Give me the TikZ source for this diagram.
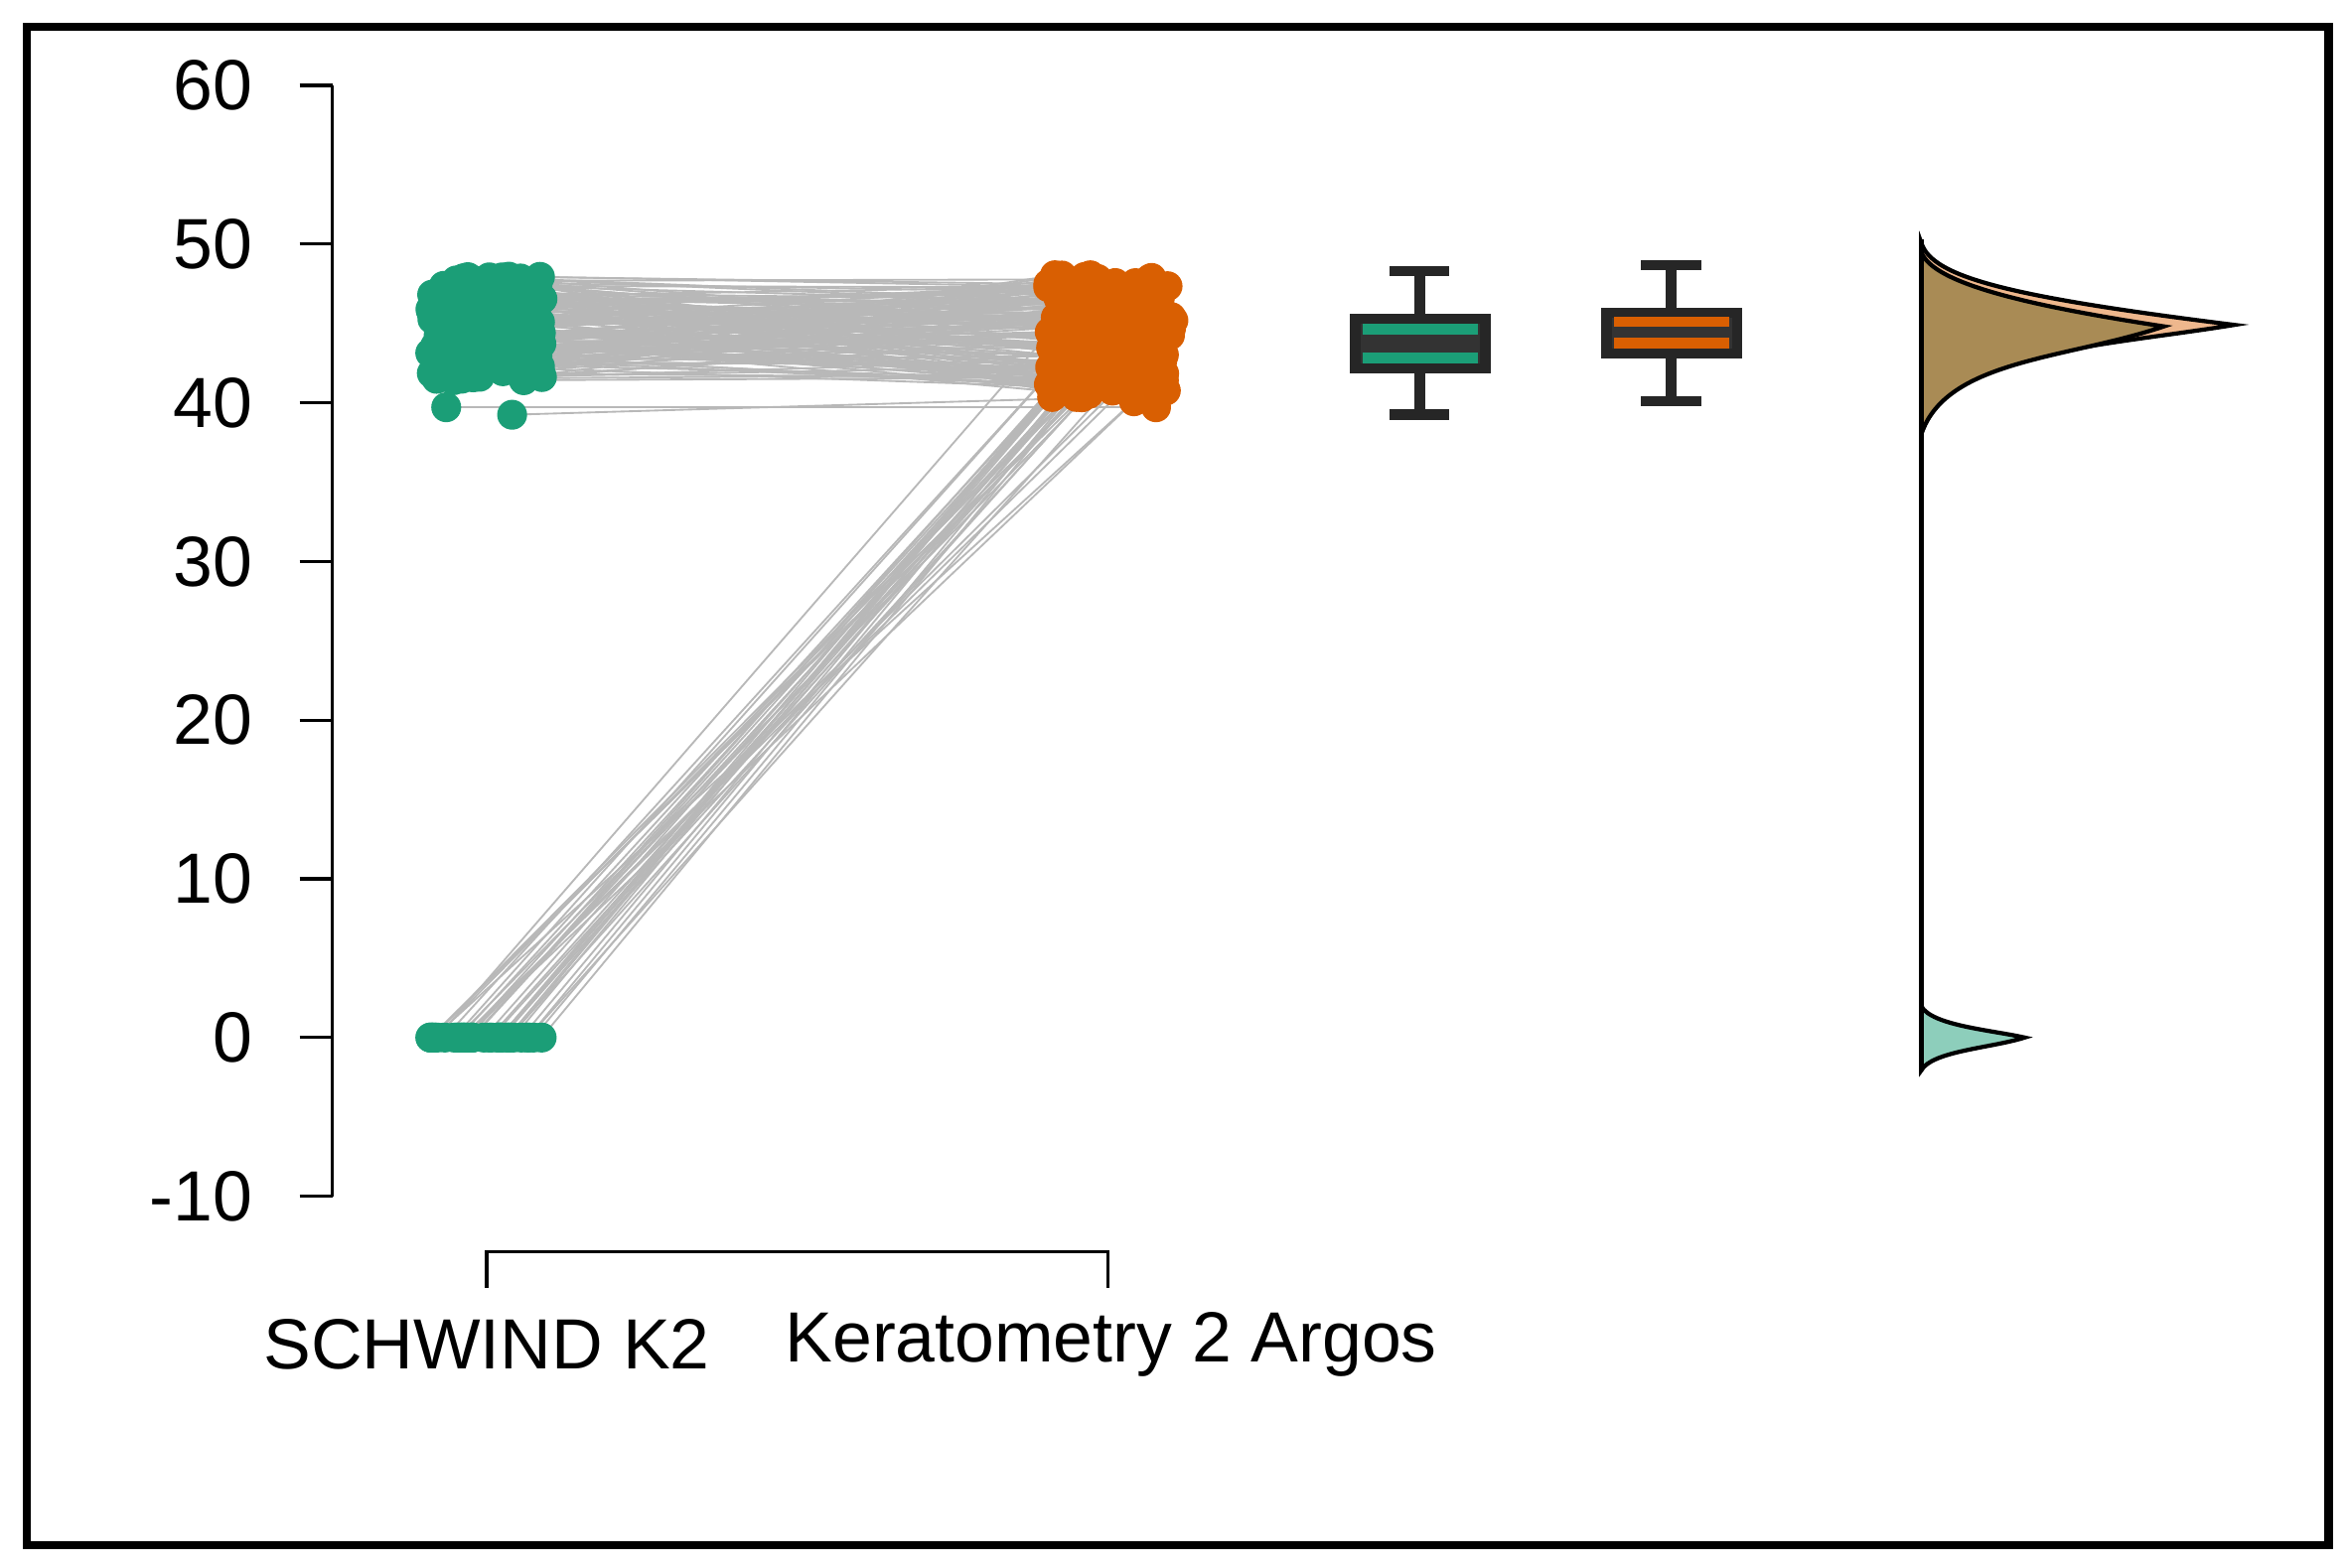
\documentclass[tikz,border=0pt]{standalone}
\usepackage{fontspec}
\setmainfont{Liberation Sans}
\begin{document}
\begin{tikzpicture}[x=0.01cm,y=-0.01cm,
  ax/.style={line width=0.6pt,black},
  lab/.style={font=\fontsize{13.5}{15}\selectfont},
  link/.style={draw=black!28,line width=0.35pt}]
\definecolor{gcol}{HTML}{1B9E77}
\definecolor{ocol}{HTML}{D95F02}
\definecolor{tan}{HTML}{A98B55}
\useasboundingbox (0,0) rectangle (1568,1047);
\draw[line width=1.6pt] (18,18) rectangle (1555,1032);
% y axis
\draw[ax] (222,57) -- (222,799);
\foreach \v in {-10,0,...,60}{
  \pgfmathsetmacro\yy{693-10.6*\v}
  \draw[ax] (200,\yy) -- (222,\yy);
  \node[lab,anchor=east] (t\v) at (181,\yy) {\v};
}
% x bracket
\draw[ax] (325,860) -- (325,836) -- (740,836) -- (740,860);
\node[lab] (l1) at (325,898) {SCHWIND K2};
\node[lab] (l2) at (742,898) {Keratometry 2 Argos};
% lines
\pgfmathsetseed{11}
\foreach \i in {1,...,170}{
  \pgfmathsetmacro\g{44.7+3.3*rand}
  \pgfmathsetmacro\o{44.3+3.8*rand}
  \pgfmathsetmacro\gx{325+38*rand}
  \pgfmathsetmacro\ox{742+42*rand}
  \draw[link] (\gx,693-10.6*\g) -- (\ox,693-10.6*\o);
}
\foreach \i in {1,...,35}{
  \pgfmathsetmacro\o{42.5+2.5*rand}
  \pgfmathsetmacro\gx{325+38*rand}
  \pgfmathsetmacro\ox{742+42*rand}
  \draw[link] (\gx,693) -- (\ox,693-10.6*\o);
}
\draw[link] (298,272) -- (770,272);
\draw[link] (342,277) -- (750,265);
% dots
\pgfmathsetseed{11}
\foreach \i in {1,...,170}{
  \pgfmathsetmacro\g{44.7+3.3*rand}
  \pgfmathsetmacro\o{44.3+3.8*rand}
  \pgfmathsetmacro\gx{325+38*rand}
  \pgfmathsetmacro\ox{742+42*rand}
  \fill[gcol] (\gx,693-10.6*\g) circle (10);
  \fill[ocol] (\ox,693-10.6*\o) circle (10);
}
\foreach \i in {1,...,35}{
  \pgfmathsetmacro\o{42.5+2.5*rand}
  \pgfmathsetmacro\gx{325+38*rand}
  \pgfmathsetmacro\ox{742+42*rand}
  \fill[gcol] (\gx,693) circle (10);
  \fill[ocol] (\ox,693-10.6*\o) circle (10);
}
\fill[gcol] (298,272) circle (10) (342,277) circle (10);
\fill[ocol] (772,272) circle (10);
% boxplots
\draw[line width=2pt,black!85] (948,181) -- (948,213) (948,246) -- (948,277)
  (928,181) -- (968,181) (928,277) -- (968,277);
\draw[line width=2pt,black!85,fill=black!80] (905,213) rectangle (992,246);
\draw[line width=2pt,gcol] (910,220) -- (987,220) (910,239) -- (987,239);
\draw[line width=2pt,black!85] (1116,177) -- (1116,209) (1116,236) -- (1116,268)
  (1096,177) -- (1136,177) (1096,268) -- (1136,268);
\draw[line width=2pt,black!85,fill=black!80] (1073,209) rectangle (1160,236);
\draw[line width=2pt,ocol] (1078,215) -- (1155,215) (1078,229) -- (1155,229);
% densities
\filldraw[fill=ocol!45!white,draw=black,line width=0.8pt] (1283,162) .. controls (1290,185) and (1340,198) .. (1492,217)
  .. controls (1400,232) and (1300,235) .. (1283,290) -- cycle;
\filldraw[fill=tan,draw=black,line width=0.8pt] (1283,168) .. controls (1290,190) and (1360,205) .. (1445,218)
  .. controls (1380,240) and (1300,240) .. (1283,290) -- cycle;
\filldraw[fill=gcol!50!white,draw=black,line width=0.8pt] (1283,672) .. controls (1290,685) and (1330,688) .. (1352,693)
  .. controls (1330,700) and (1290,702) .. (1283,715) -- cycle;
\draw[line width=1pt] (1283,160) -- (1283,715);
\end{tikzpicture}
\end{document}
